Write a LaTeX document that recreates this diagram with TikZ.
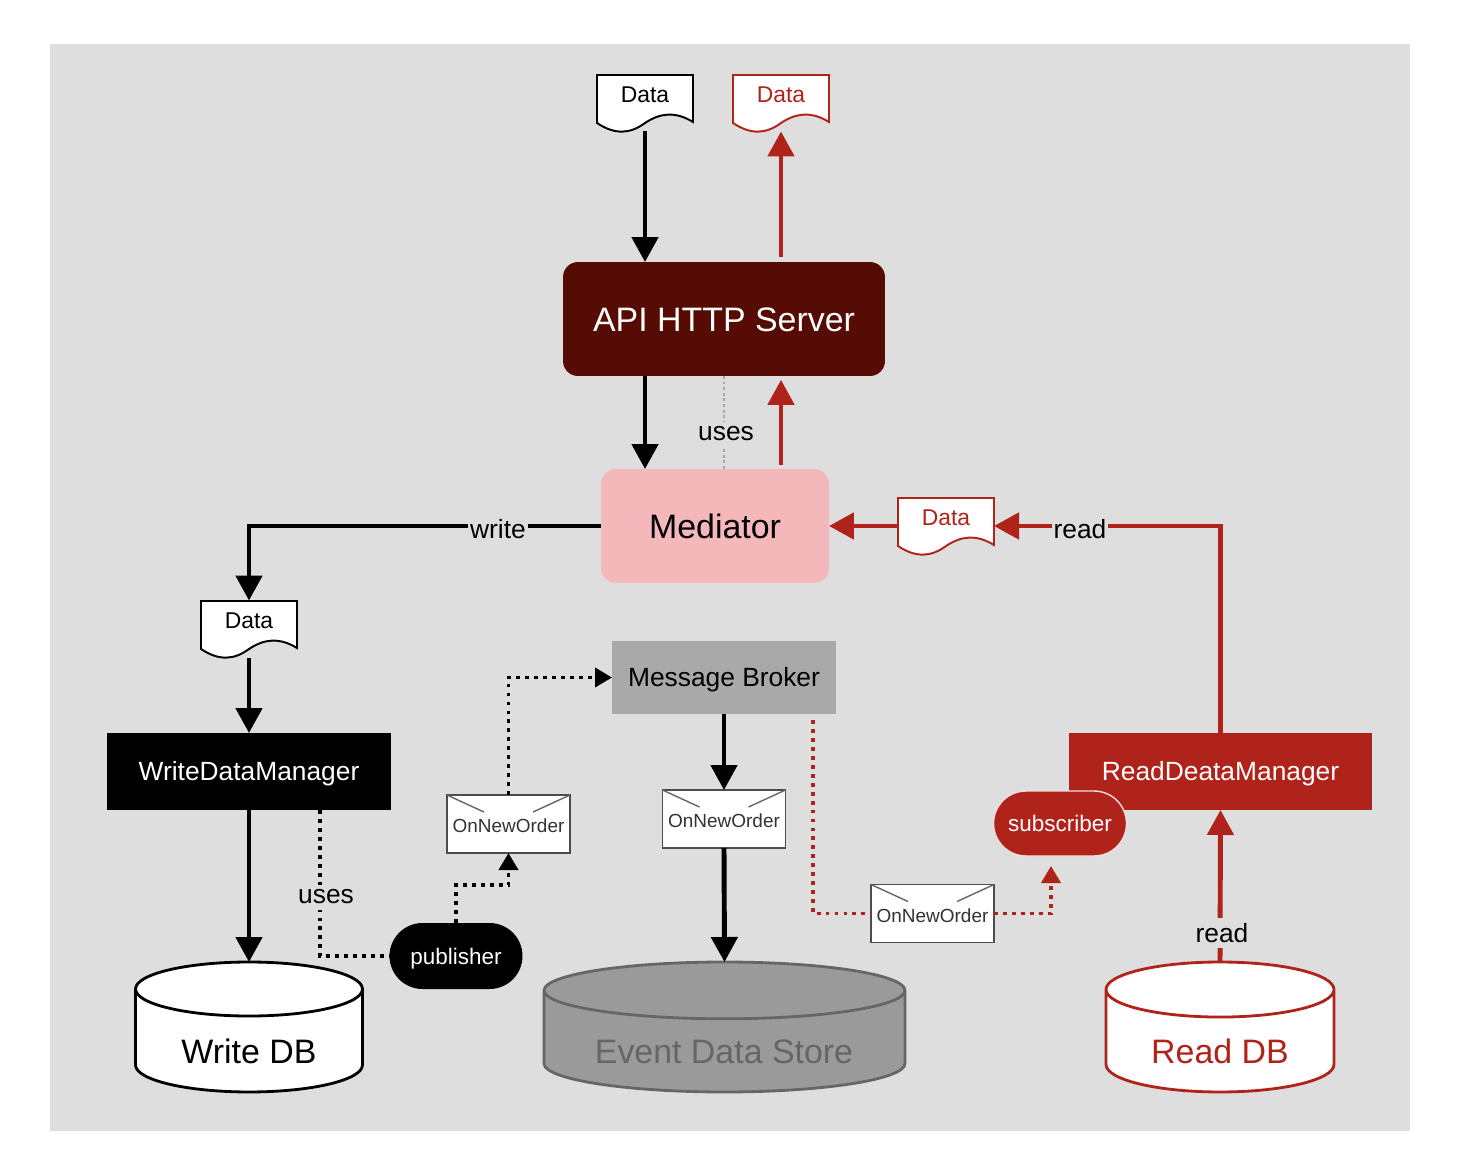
\documentclass[tikz,border=0pt]{standalone}
\usepackage{fontspec}
\setmainfont{Liberation Sans}
\usetikzlibrary{arrows.meta,shapes.geometric,shapes.misc}
\definecolor{panel}{HTML}{DEDEDE}
\definecolor{maroon}{HTML}{560C05}
\definecolor{pinkbox}{HTML}{F4B8BA}
\definecolor{redline}{HTML}{B0231A}
\definecolor{brokergray}{HTML}{A9A9A9}
\definecolor{storegray}{HTML}{9A9A9A}
\tikzset{
	box/.style={rectangle,inner sep=0,outer sep=0,text depth=0pt},
	bigtext/.style={font=\fontsize{19.3}{22}\selectfont,text height=13.9pt},
	midtext/.style={font=\fontsize{15}{18}\selectfont,text height=10.8pt},
	smalltext/.style={font=\fontsize{13}{16}\selectfont,text height=9.4pt},
	tagtext/.style={font=\fontsize{15}{18}\selectfont,fill=panel,inner xsep=1pt,inner ysep=3pt},
	envelope/.style={box,draw=black!70,fill=white,line width=0.8pt,minimum width=2.46cm,minimum height=1.16cm,font=\fontsize{10.8}{13}\selectfont,text height=10pt,text=black!80},
	pill/.style={rounded rectangle,inner sep=0,outer sep=0,text height=9.2pt,text depth=0pt,minimum width=2.66cm,minimum height=1.32cm,font=\fontsize{12.8}{15}\selectfont,text=white},
	db/.style={cylinder,shape border rotate=90,aspect=0.4,anchor=north,inner sep=0,outer sep=0,minimum height=2.6cm,line width=1.6pt,font=\fontsize{19.3}{22}\selectfont},
	heavy/.style={line width=2.8pt,-{Triangle[length=0.5cm,width=0.52cm]}},
	dots/.style={line width=2.2pt,dash pattern=on 2.2pt off 2.9pt,-{Triangle[length=0.34cm,width=0.38cm]}}
}
% doc shape with a wavy lower edge
\def\docnode[#1](#2)(#3){
	\draw[#1,fill=white,line width=1.1pt,shift={(#3)}] (-48,-28) -- (48,-28) -- (48,19) .. controls (30,8) and (15,10) .. (0,20) .. controls (-15,31) and (-30,32) .. (-48,20) -- cycle;
	\node[box,minimum width=1.92cm,minimum height=1.14cm,text=#1,smalltext] (#2) at (#3) {\raisebox{0.18cm}{Data}};
}
\begin{document}
\begin{tikzpicture}[x=0.02cm,y=-0.02cm]
	\useasboundingbox (0,0) rectangle (1476,1172);
	\fill[panel] (50,44) rectangle (1410,1131);

	%%%%% TOP %%%%%
	\docnode[black](dataIn)(645,103)
	\docnode[redline](dataOut)(781,103)
	\node[box,rounded corners=0.3cm,fill=maroon,text=white,bigtext,minimum width=6.44cm,minimum height=2.28cm] (api) at (724,319) {API HTTP Server};
	\node[box,rounded corners=0.3cm,fill=pinkbox,bigtext,minimum width=4.56cm,minimum height=2.28cm] (mediator) at (715,526) {Mediator};
	\docnode[redline](dataRead)(946,526)
	\docnode[black](dataWrite)(249,629)

	%%%%% MANAGERS %%%%%
	\node[box,fill=black,text=white,midtext,minimum width=5.68cm,minimum height=1.54cm] (writer) at (249,771.5) {WriteDataManager};
	\node[box,fill=redline,text=white,midtext,minimum width=6.06cm,minimum height=1.54cm] (reader) at (1220.5,771.5) {ReadDeataManager};
	\node[box,fill=brokergray,midtext,minimum width=4.48cm,minimum height=1.46cm] (broker) at (724,677.5) {Message Broker};

	\node[envelope] (envPub) at (508.5,824) {OnNewOrder};
	\node[envelope] (envStore) at (724,819) {OnNewOrder};
	\node[envelope] (envSub) at (932.5,913.5) {OnNewOrder};
	\foreach \e in {envPub,envStore,envSub}{
		\draw[black!60,line width=0.8pt] (\e.north west) -- ++(37,17);
		\draw[black!60,line width=0.8pt] (\e.north east) -- ++(-37,17);
	}

	\node[pill,fill=black] (publisher) at (456,956) {publisher};
	\node[pill,fill=redline,draw=white!85!redline,line width=0.8pt,minimum height=1.3cm] (subscriber) at (1060,823.5) {subscriber};

	%%%%% STORES %%%%%
	\node[db,draw=black,fill=white,minimum width=4.54cm] (writeDb) at (249,962) {\phantom{Write DB}};
	\node[db,draw=black!60,fill=storegray,minimum width=7.22cm,aspect=0.22] (eventDb) at (724.5,962) {\phantom{Event Data Store}};
	\node[db,draw=redline,fill=white,minimum width=4.56cm] (readDb) at (1220,962) {\phantom{Read DB}};
	\node[box,bigtext] (writeText) at (249,1051) {Write DB};
	\node[box,bigtext,text=black!60] (eventText) at (724,1051) {Event Data Store};
	\node[box,bigtext,text=redline] (readText) at (1220,1051) {Read DB};

	%%%%% ARROWS %%%%%
	\draw[heavy] (dataIn.south) -- (dataIn.south |- api.north);
	\draw[heavy,redline,shorten <=2.8pt] (dataOut.south |- api.north) -- (dataOut.south);
	\draw[heavy] (dataIn.south |- api.south) -- (dataIn.south |- mediator.north);
	\draw[heavy,redline,shorten <=2.2pt,shorten >=2.2pt] (dataOut.south |- mediator.north) -- (dataOut.south |- api.south);
	\draw[black!35,line width=1.4pt,dash pattern=on 1.6pt off 1.6pt] (724,376) coordinate (usesTop) -- (usesTop |- mediator.north);
	\node[tagtext] (usesApi) at (726,434) {uses};

	\draw[heavy] (mediator.west) -| (dataWrite.north);
	\node[tagtext] (tagWrite) at (498,529) {write};
	\draw[heavy] (dataWrite.south) -- (writer.north);
	\draw[heavy] (writer.south) -- (writeDb.north);

	\draw[dots,-] (320,810) coordinate (usesFoot) |- (publisher.west);
	\node[tagtext] (usesPub) at (326,897) {uses};
	\draw[dots] (publisher.north) -- (456,885) -| (envPub.south);
	\draw[dots] (envPub.north) |- (broker.west);

	\draw[heavy] (broker.south) -- (envStore.north);
	\draw[heavy] (envStore.south) -- (eventDb.north);

	\draw[dots,redline,-] (813,720) coordinate (brokerOut) |- (envSub.west);
	\draw[dots,redline] (envSub.east) -| (1051,866) coordinate (subIn);

	\draw[heavy,redline] (readDb.north) -- (reader.south);
	\node[tagtext] (tagReadDb) at (1222,933) {read};
	\draw[heavy,redline] (reader.north) |- (dataRead.east);
	\node[tagtext] (tagRead) at (1080,529) {read};
	\draw[heavy,redline] (dataRead.west) -- (mediator.east);
\end{tikzpicture}
\end{document}
